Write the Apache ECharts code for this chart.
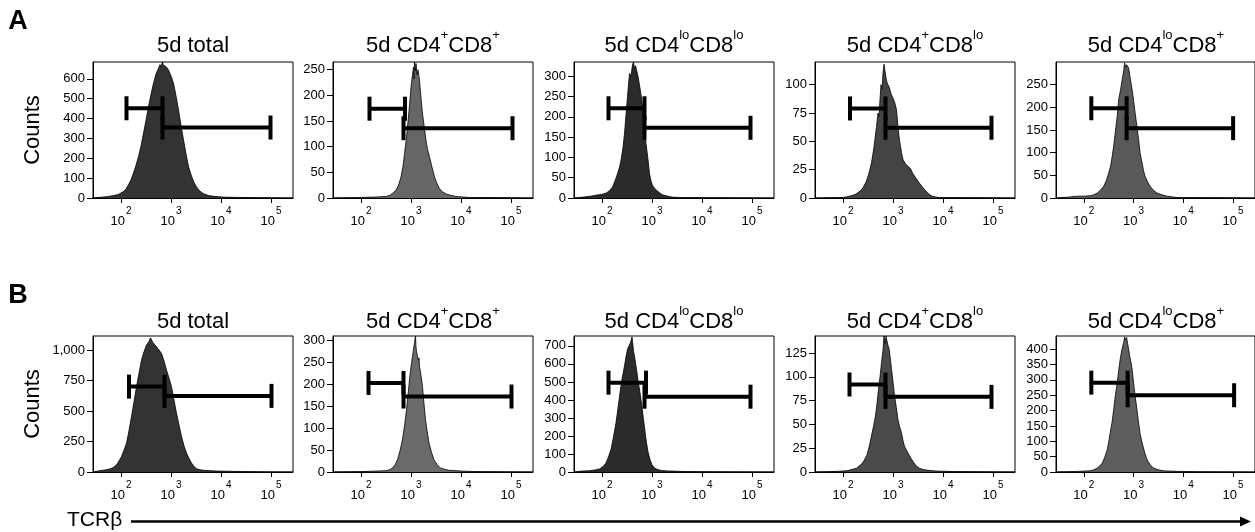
<!DOCTYPE html>
<html><head><meta charset="utf-8">
<script src="https://cdn.jsdelivr.net/npm/echarts@6/dist/echarts.min.js"></script>
<style>html,body{margin:0;padding:0;background:#fff}#c{width:1255px;height:532px}</style>
</head><body><div id="c"></div><script>
// ---------- DATA ----------
const PANEL_TITLES = ['5d total', '5d CD4{s|+}CD8{s|+}', '5d CD4{s|lo}CD8{s|lo}', '5d CD4{s|+}CD8{s|lo}', '5d CD4{s|lo}CD8{s|+}'];
const ROW_LABELS = ['A', 'B'];
const Y_NAME = 'Counts';
const X_NAME = 'TCRβ';
const X_DECADES = [2, 3, 4, 5];          // tick positions, log10 units (10^2 .. 10^5)
const X_RANGE = [1.44, 5.44];            // log10 display range

// y-axis max and tick labels per panel (row A then row B)
const Y_MAX_A = [685, 265, 335, 120, 300];
const Y_MAX_B = [1115, 310, 755, 143, 443];
const Y_TICKS_A = [
  [0, 100, 200, 300, 400, 500, 600],
  [0, 50, 100, 150, 200, 250],
  [0, 50, 100, 150, 200, 250, 300],
  [0, 25, 50, 75, 100],
  [0, 50, 100, 150, 200, 250]
];
const Y_TICKS_B = [
  [0, 250, 500, 750, 1000],
  [0, 50, 100, 150, 200, 250, 300],
  [0, 100, 200, 300, 400, 500, 600, 700],
  [0, 25, 50, 75, 100, 125],
  [0, 50, 100, 150, 200, 250, 300, 350, 400]
];

// histograms: [log10(TCRβ), counts]
const HIST_A1 = [[1.44,0],[1.55,3],[1.65,5],[1.75,8],[1.85,12],[1.95,18],[2.05,33],[2.10,45],[2.15,67],[2.20,92],[2.25,126],[2.30,165],[2.35,209],[2.40,262],[2.45,327],[2.50,392],[2.55,460],[2.60,522],[2.65,578],[2.70,625],[2.75,653],[2.78,672],[2.80,660],[2.83,685],[2.85,668],[2.90,662],[2.95,645],[3.00,615],[3.05,578],[3.10,515],[3.15,444],[3.20,365],[3.25,293],[3.30,222],[3.35,159],[3.40,118],[3.45,84],[3.50,60],[3.55,42],[3.60,30],[3.65,22],[3.75,12],[3.90,7],[4.10,4],[4.30,3],[4.60,2],[5.00,1],[5.44,0]];
const HIST_A2 = [[1.44,0],[2.0,1],[2.3,2],[2.5,3],[2.57,5],[2.63,9],[2.7,15],[2.75,25],[2.8,41],[2.84,62],[2.87,86],[2.9,110],[2.93,138],[2.97,180],[3.0,216],[3.03,240],[3.05,255],[3.06,232],[3.07,265],[3.09,248],[3.1,262],[3.12,240],[3.14,250],[3.17,229],[3.2,195],[3.23,164],[3.27,135],[3.3,112],[3.33,95],[3.37,80],[3.42,60],[3.47,41],[3.52,28],[3.57,18],[3.63,12],[3.7,8],[3.8,5],[3.9,3],[4.17,1],[4.6,1],[5.44,0]];
const HIST_A3 = [[1.44,0],[1.6,2],[1.68,3],[1.8,5],[1.88,7],[2.0,9],[2.08,12],[2.15,18],[2.21,27],[2.26,42],[2.31,60],[2.35,76],[2.38,93],[2.42,125],[2.45,159],[2.48,205],[2.51,250],[2.55,307],[2.58,300],[2.61,328],[2.63,335],[2.65,318],[2.67,326],[2.69,315],[2.72,300],[2.75,278],[2.78,255],[2.81,225],[2.85,175],[2.88,134],[2.92,95],[2.95,60],[2.98,42],[3.01,31],[3.05,24],[3.11,17],[3.16,12],[3.21,8],[3.3,5],[3.41,2],[3.6,1],[5.44,0]];
const HIST_A4 = [[1.44,0],[2.0,0.5],[2.08,1],[2.16,2],[2.24,3],[2.34,6],[2.4,9],[2.47,15],[2.52,22],[2.57,31],[2.62,45],[2.67,63],[2.7,75],[2.72,72],[2.74,87],[2.76,100],[2.78,96],[2.8,110],[2.82,118],[2.84,112],[2.86,106],[2.88,102],[2.9,100],[2.93,97],[2.96,92],[3.0,93],[3.03,85],[3.07,78],[3.1,62],[3.13,51],[3.17,40],[3.2,34],[3.25,30],[3.3,28],[3.35,26],[3.39,22],[3.45,18],[3.53,13],[3.6,9],[3.66,6],[3.73,3],[3.79,1.5],[3.9,0.5],[5.44,0]];
const HIST_A5 = [[1.44,0],[1.7,2],[1.87,4],[2.0,4],[2.13,5],[2.2,7],[2.27,11],[2.33,17],[2.4,26],[2.45,38],[2.5,55],[2.54,72],[2.57,92],[2.6,115],[2.63,143],[2.67,180],[2.7,217],[2.74,240],[2.77,261],[2.8,280],[2.82,298],[2.84,288],[2.86,294],[2.88,290],[2.9,287],[2.93,265],[2.97,239],[3.0,215],[3.03,188],[3.07,155],[3.1,129],[3.13,100],[3.17,77],[3.2,60],[3.23,48],[3.28,36],[3.33,26],[3.4,17],[3.47,11],[3.57,7],[3.67,4],[3.87,1],[4.2,1],[5.44,0]];
const HIST_B1 = [[1.44,0],[1.48,5],[1.58,11],[1.68,17],[1.78,25],[1.85,38],[1.91,60],[1.96,90],[2.01,128],[2.06,178],[2.11,237],[2.16,340],[2.21,455],[2.26,575],[2.31,700],[2.36,810],[2.41,918],[2.46,985],[2.51,1041],[2.56,1070],[2.59,1100],[2.61,1090],[2.64,1060],[2.67,1050],[2.71,1027],[2.76,1000],[2.81,973],[2.86,910],[2.91,836],[2.96,770],[3.01,700],[3.06,590],[3.11,482],[3.16,385],[3.21,292],[3.26,215],[3.31,155],[3.36,110],[3.41,74],[3.46,45],[3.51,27],[3.58,18],[3.65,14],[3.8,10],[3.91,8],[4.25,5],[4.6,3],[5.0,1],[5.44,0]];
const HIST_B2 = [[1.44,0],[2.0,1],[2.17,1.5],[2.5,3],[2.57,5],[2.63,9],[2.68,16],[2.73,28],[2.78,48],[2.83,74],[2.87,105],[2.91,142],[2.94,175],[2.97,210],[3.0,240],[3.03,264],[3.05,280],[3.07,295],[3.09,310],[3.10,285],[3.11,275],[3.13,264],[3.15,255],[3.16,260],[3.17,241],[3.2,220],[3.23,195],[3.26,155],[3.29,119],[3.32,95],[3.36,66],[3.41,45],[3.46,28],[3.52,17],[3.59,9],[3.67,6],[3.75,4],[3.9,3],[4.02,2],[4.3,1],[5.44,0]];
const HIST_B3 = [[1.44,0],[1.48,4],[1.6,5],[1.75,7],[1.85,11],[1.95,17],[2.02,30],[2.08,50],[2.13,85],[2.18,125],[2.23,195],[2.28,273],[2.32,355],[2.36,440],[2.4,515],[2.45,589],[2.48,640],[2.51,682],[2.54,700],[2.57,719],[2.6,750],[2.61,725],[2.63,673],[2.66,625],[2.69,571],[2.72,510],[2.76,440],[2.8,360],[2.83,292],[2.86,225],[2.89,162],[2.92,112],[2.96,69],[3.0,40],[3.05,22],[3.11,14],[3.18,9],[3.3,6],[3.41,5],[3.6,3],[3.9,2],[4.3,1],[5.44,0]];
const HIST_B4 = [[1.44,0],[1.8,0.5],[2.0,1],[2.1,1.5],[2.2,3],[2.27,4],[2.34,7],[2.4,10],[2.44,14],[2.48,18],[2.53,28],[2.57,38],[2.61,48],[2.65,59],[2.68,72],[2.71,87],[2.74,100],[2.77,115],[2.8,128],[2.81,135],[2.82,143],[2.84,135],[2.86,143],[2.87,140],[2.9,133],[2.92,130],[2.95,118],[2.97,108],[3.0,95],[3.03,80],[3.06,70],[3.1,55],[3.13,48],[3.17,41],[3.2,33],[3.23,27],[3.28,22],[3.33,17],[3.4,11],[3.47,6],[3.53,4],[3.6,2.5],[3.75,1.5],[3.87,1],[4.2,0.5],[5.44,0]];
const HIST_B5 = [[1.44,0],[1.7,1],[1.87,2],[2.0,3],[2.13,4],[2.2,7],[2.27,13],[2.32,20],[2.37,29],[2.42,48],[2.47,73],[2.5,98],[2.53,128],[2.57,165],[2.6,204],[2.63,245],[2.67,291],[2.7,330],[2.73,367],[2.76,395],[2.8,422],[2.82,440],[2.84,430],[2.86,438],[2.87,427],[2.9,400],[2.92,378],[2.95,355],[2.97,335],[3.0,290],[3.03,248],[3.07,200],[3.1,160],[3.13,125],[3.17,95],[3.22,65],[3.27,40],[3.33,24],[3.4,13],[3.5,7],[3.6,4],[3.87,2],[4.3,1],[5.44,0]];

// gates: [x start (log10), x end (log10), counts level]
const GATES_A = [
  [[2.11, 2.83, 452], [2.83, 4.99, 355]],
  [[2.17, 2.88, 174], [2.85, 5.03, 136]],
  [[2.13, 2.85, 221], [2.85, 4.97, 173]],
  [[2.14, 2.85, 79],  [2.85, 4.97, 62]],
  [[2.15, 2.86, 198], [2.86, 5.00, 154]]
];
const GATES_B = [
  [[2.16, 2.87, 700], [2.87, 5.01, 624]],
  [[2.15, 2.85, 203], [2.85, 5.01, 172]],
  [[2.13, 2.88, 496], [2.85, 4.97, 418]],
  [[2.13, 2.85, 92],  [2.85, 4.97, 79]],
  [[2.15, 2.88, 291], [2.88, 5.02, 250]]
];

// ---------- STYLE / LAYOUT ----------
const FILLS_A = ['#333333', '#666666', '#2b2b2b', '#444444', '#595959'];
const FILLS_B = ['#333333', '#6a6a6a', '#2b2b2b', '#4a4a4a', '#5e5e5e'];
const FONT = "'Liberation Sans', Arial, Helvetica, sans-serif";
const COL_LEFT = [93, 333, 574, 815, 1056];
const ROW_TOP = [62, 336];
const PW = 200, PH = 136;
const TITLE_TOP = [29, 304.5];

const rows = [
  {hist: [HIST_A1, HIST_A2, HIST_A3, HIST_A4, HIST_A5], ymax: Y_MAX_A, yt: Y_TICKS_A, gates: GATES_A, fills: FILLS_A},
  {hist: [HIST_B1, HIST_B2, HIST_B3, HIST_B4, HIST_B5], ymax: Y_MAX_B, yt: Y_TICKS_B, gates: GATES_B, fills: FILLS_B}
];

const grid = [], xAxis = [], yAxis = [], series = [], graphic = [];
let idx = 0;
rows.forEach((row, r) => {
  for (let c = 0; c < 5; c++) {
    grid.push({left: COL_LEFT[c], top: ROW_TOP[r], width: PW, height: PH, show: true,
      borderColor: '#000', borderWidth: 1, backgroundColor: 'transparent', containLabel: false});
    xAxis.push({type: 'value', gridIndex: idx, min: X_RANGE[0], max: X_RANGE[1],
      axisLine: {show: true, onZero: false, lineStyle: {color: '#000', width: 1}},
      axisTick: {show: true, length: 5, customValues: X_DECADES, lineStyle: {color: '#000', width: 1}},
      splitLine: {show: false},
      axisLabel: {show: true, margin: 8, customValues: X_DECADES,
        formatter: v => '{b|10}{e|' + Math.round(v) + '}',
        rich: {
          b: {fontFamily: FONT, fontSize: 13, color: '#000', lineHeight: 22, verticalAlign: 'bottom'},
          e: {fontFamily: FONT, fontSize: 10, color: '#000', lineHeight: 4, verticalAlign: 'top', padding: [0, 0, 0, 1]}
        }}
    });
    yAxis.push({type: 'value', gridIndex: idx, min: 0, max: row.ymax[c],
      axisLine: {show: true, lineStyle: {color: '#000', width: 1}},
      axisTick: {show: true, length: 6, customValues: row.yt[c], lineStyle: {color: '#000', width: 1}},
      splitLine: {show: false},
      axisLabel: {show: true, margin: 8, customValues: row.yt[c], fontFamily: FONT, fontSize: 13, color: '#000',
        formatter: v => v.toLocaleString('en-US')}
    });
    series.push({type: 'line', xAxisIndex: idx, yAxisIndex: idx, data: row.hist[c],
      showSymbol: false, symbol: 'none', smooth: false, silent: true,
      lineStyle: {color: '#000', width: 0.8},
      areaStyle: {color: row.fills[c], opacity: 1}, z: 2});
    series.push({type: 'custom', xAxisIndex: idx, yAxisIndex: idx, data: row.gates[c],
      encode: {x: [0, 1], y: 2}, silent: true, z: 5,
      renderItem: (params, api) => {
        const p1 = api.coord([api.value(0), api.value(2)]);
        const p2 = api.coord([api.value(1), api.value(2)]);
        const h = 12, st = {stroke: '#000', lineWidth: 4};
        return {type: 'group', children: [
          {type: 'line', shape: {x1: p1[0], y1: p1[1], x2: p2[0], y2: p2[1]}, style: st},
          {type: 'line', shape: {x1: p1[0], y1: p1[1] - h, x2: p1[0], y2: p1[1] + h}, style: st},
          {type: 'line', shape: {x1: p2[0], y1: p2[1] - h, x2: p2[0], y2: p2[1] + h}, style: st}
        ]};
      }});
    // panel title
    graphic.push({type: 'text', x: COL_LEFT[c] + PW / 2, y: TITLE_TOP[r], silent: true,
      style: {text: PANEL_TITLES[c], align: 'center', verticalAlign: 'top', fill: '#000',
        fontFamily: FONT, fontSize: 22, lineHeight: 34,
        rich: {
          s: {fontFamily: FONT, fontSize: 13, lineHeight: 4, verticalAlign: 'top', fill: '#000'}
        }}});
    idx++;
  }
  // row letter
  graphic.push({type: 'text', x: 18, y: ROW_TOP[r] - 40, silent: true,
    style: {text: ROW_LABELS[r], align: 'center', verticalAlign: 'middle', fill: '#000',
      fontFamily: FONT, fontSize: 27, fontWeight: 'bold'}});
  // y axis name
  graphic.push({type: 'text', x: 33, y: ROW_TOP[r] + PH / 2, rotation: Math.PI / 2, silent: true,
    style: {text: Y_NAME, align: 'center', verticalAlign: 'middle', fill: '#000', fontFamily: FONT, fontSize: 22}});
});
// x axis name with arrow
graphic.push({type: 'text', x: 67, y: 520, silent: true,
  style: {text: X_NAME, align: 'left', verticalAlign: 'middle', fill: '#000', fontFamily: FONT, fontSize: 21}});
graphic.push({type: 'line', silent: true, shape: {x1: 131, y1: 521.5, x2: 1243, y2: 521.5},
  style: {stroke: '#000', lineWidth: 2.7}});
graphic.push({type: 'polygon', silent: true, shape: {points: [[1240, 516.5], [1251, 521.5], [1240, 526.5]]},
  style: {fill: '#000'}});

const chart = echarts.init(document.getElementById('c'), null, {renderer: 'canvas'});
chart.setOption({animation: false, backgroundColor: '#fff', grid, xAxis, yAxis, series, graphic});
</script></body></html>
